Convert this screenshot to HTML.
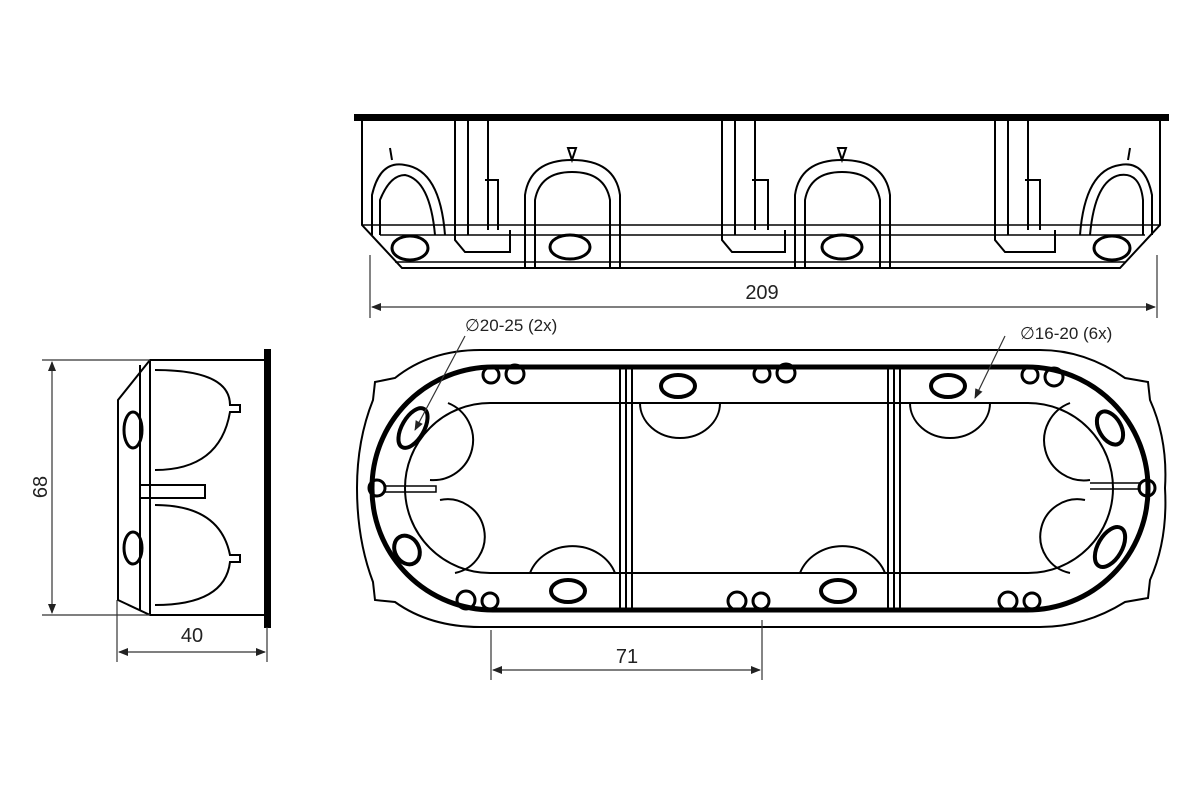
<!DOCTYPE html>
<html><head><meta charset="utf-8"><style>
html,body{margin:0;padding:0;background:#fff;}
svg{display:block;}
text{font-family:"Liberation Sans",sans-serif;fill:#222;}
</style></head><body>
<svg width="1200" height="800" viewBox="0 0 1200 800" xmlns="http://www.w3.org/2000/svg">
<defs>
<marker id="ar" markerWidth="10" markerHeight="8" refX="9" refY="4" orient="auto-start-reverse" markerUnits="userSpaceOnUse">
<path d="M0,0 L10,4 L0,8 z" fill="#222"/></marker>
</defs>
<g fill="none" stroke="#000" stroke-width="2">
<!-- front elevation -->
<rect x="355" y="115" width="813" height="5" fill="#000"/>
<path d="M362,120 L362,225 L402,268 L1120,268 L1160,225 L1160,120"/>
<line x1="362" y1="225" x2="1160" y2="225" stroke-width="1.5"/>
<line x1="380" y1="235" x2="1145" y2="235" stroke-width="1.5"/>
<line x1="395" y1="262" x2="1125" y2="262" stroke-width="1.5"/>
<path d="M372,235 L372,195 Q380,160 405,165 Q440,170 445,235" />
<path d="M380,235 L380,200 Q390,175 405,175 Q430,180 435,235" />
<path d="M525,268 L525,195 Q530,160 572,160 Q615,160 620,195 L620,268"/>
<path d="M535,268 L535,200 Q540,172 572,172 Q605,172 610,200 L610,268"/>
<path d="M795,268 L795,195 Q800,160 842,160 Q885,160 890,195 L890,268"/>
<path d="M805,268 L805,200 Q810,172 842,172 Q875,172 880,200 L880,268"/>
<path d="M1080,235 Q1085,170 1120,165 Q1145,160 1152,195 L1152,235"/>
<path d="M1090,235 Q1095,180 1120,175 Q1140,172 1143,200 L1143,235"/>
<path d="M572,160 L568,148 L576,148 Z M842,160 L838,148 L846,148 Z M392,160 L390,148 M1128,160 L1130,148"/>
<ellipse cx="410" cy="248" rx="18" ry="12" stroke-width="3"/>
<ellipse cx="570" cy="247" rx="20" ry="12" stroke-width="3"/>
<ellipse cx="842" cy="247" rx="20" ry="12" stroke-width="3"/>
<ellipse cx="1112" cy="248" rx="18" ry="12" stroke-width="3"/>
<path d="M455,120 L455,240 L465,252 L510,252 L510,230 M468,120 L468,235 M485,180 L498,180 L498,230 M488,120 L488,230"/>
<path d="M722,120 L722,240 L732,252 L785,252 L785,230 M735,120 L735,235 M752,180 L768,180 L768,230 M755,120 L755,230"/>
<path d="M995,120 L995,240 L1005,252 L1055,252 L1055,230 M1008,120 L1008,235 M1025,180 L1040,180 L1040,230 M1028,120 L1028,230"/>
<!-- side view -->
<rect x="265" y="350" width="5" height="277" fill="#000"/>
<path d="M265,360 L150,360 L118,400 L118,600 L150,615 L265,615"/>
<path d="M150,360 L150,615 M140,365 L140,610"/>
<path d="M155,370 Q230,370 230,405 L240,405 L240,412 L230,412 Q220,470 155,470"/>
<path d="M155,505 Q220,505 230,555 L240,555 L240,562 L230,562 Q225,605 155,605"/>
<path d="M140,485 L205,485 L205,498 L140,498"/>
<ellipse cx="133" cy="430" rx="9" ry="18" stroke-width="3"/>
<ellipse cx="133" cy="548" rx="9" ry="16" stroke-width="3"/>
<!-- plan view -->
<path d="M480,350 L1040,350 Q1085,350 1125,378 L1148,382 L1150,400 Q1168,440 1165,488 Q1168,540 1150,580 L1148,598 L1125,602 Q1085,627 1040,627 L480,627 Q430,627 395,602 L375,600 L373,582 Q357,540 357,488 Q357,440 373,400 L375,382 L395,378 Q430,350 480,350 Z"/>
<rect x="372" y="367" width="776" height="243" rx="121" stroke-width="5"/>
<rect x="405" y="403" width="708" height="170" rx="85"/>
<line x1="620" y1="367" x2="620" y2="610"/><line x1="626" y1="367" x2="626" y2="610"/><line x1="632" y1="367" x2="632" y2="610"/>
<line x1="888" y1="367" x2="888" y2="610"/><line x1="894" y1="367" x2="894" y2="610"/><line x1="900" y1="367" x2="900" y2="610"/>
<path d="M640,403 A40,35 0 0 0 720,403 M910,403 A40,35 0 0 0 990,403 M530,573 A45,40 0 0 1 615,573 M800,573 A45,40 0 0 1 885,573"/>
<path d="M448,403 A40,40 0 0 1 430,480 M440,500 A35,35 0 0 1 455,573 M1070,403 A40,40 0 0 0 1090,480 M1085,500 A35,35 0 0 0 1070,573"/>
<ellipse cx="678" cy="386" rx="17" ry="11" stroke-width="4"/>
<ellipse cx="948" cy="386" rx="17" ry="11" stroke-width="4"/>
<ellipse cx="568" cy="591" rx="17" ry="11" stroke-width="4"/>
<ellipse cx="838" cy="591" rx="17" ry="11" stroke-width="4"/>
<ellipse cx="413" cy="428" rx="11" ry="22" transform="rotate(30 413 428)" stroke-width="4"/>
<ellipse cx="407" cy="550" rx="12" ry="15" transform="rotate(-30 407 550)" stroke-width="4"/>
<ellipse cx="1110" cy="428" rx="11" ry="18" transform="rotate(-30 1110 428)" stroke-width="4"/>
<ellipse cx="1110" cy="547" rx="12" ry="22" transform="rotate(30 1110 547)" stroke-width="4"/>
<g stroke-width="3">
<circle cx="491" cy="375" r="8"/><circle cx="515" cy="374" r="9"/>
<circle cx="762" cy="374" r="8"/><circle cx="786" cy="373" r="9"/>
<circle cx="1030" cy="375" r="8"/><circle cx="1054" cy="377" r="9"/>
<circle cx="466" cy="600" r="9"/><circle cx="490" cy="601" r="8"/>
<circle cx="737" cy="601" r="9"/><circle cx="761" cy="601" r="8"/>
<circle cx="1008" cy="601" r="9"/><circle cx="1032" cy="601" r="8"/>
<circle cx="377" cy="488" r="8"/><circle cx="1147" cy="488" r="8"/>
</g>
<path d="M385,486 L436,486 L436,492 L385,492 M1090,483 L1140,483 L1140,489 L1090,489" stroke-width="1.5"/>
</g>
<!-- dimensions -->
<g stroke="#333" stroke-width="1.2" fill="none">
<line x1="370" y1="255" x2="370" y2="318"/><line x1="1157" y1="255" x2="1157" y2="318"/>
<line x1="372" y1="307" x2="1155" y2="307" marker-start="url(#ar)" marker-end="url(#ar)"/>
<line x1="42" y1="360" x2="150" y2="360"/><line x1="42" y1="615" x2="150" y2="615"/>
<line x1="52" y1="362" x2="52" y2="613" marker-start="url(#ar)" marker-end="url(#ar)"/>
<line x1="117" y1="600" x2="117" y2="662"/><line x1="267" y1="627" x2="267" y2="662"/>
<line x1="119" y1="652" x2="265" y2="652" marker-start="url(#ar)" marker-end="url(#ar)"/>
<line x1="491" y1="630" x2="491" y2="680"/><line x1="762" y1="620" x2="762" y2="680"/>
<line x1="493" y1="670" x2="760" y2="670" marker-start="url(#ar)" marker-end="url(#ar)"/>
<line x1="465" y1="336" x2="415" y2="430" marker-end="url(#ar)"/>
<line x1="1005" y1="336" x2="975" y2="398" marker-end="url(#ar)"/>
</g>
<g font-size="20">
<text x="762" y="299" text-anchor="middle">209</text>
<text x="192" y="642" text-anchor="middle">40</text>
<text x="627" y="663" text-anchor="middle">71</text>
<text transform="translate(47,487) rotate(-90)" text-anchor="middle">68</text>
</g>
<g font-size="17">
<text x="465" y="331">∅20-25 (2x)</text>
<text x="1020" y="339">∅16-20 (6x)</text>
</g>
</svg>
</body></html>
